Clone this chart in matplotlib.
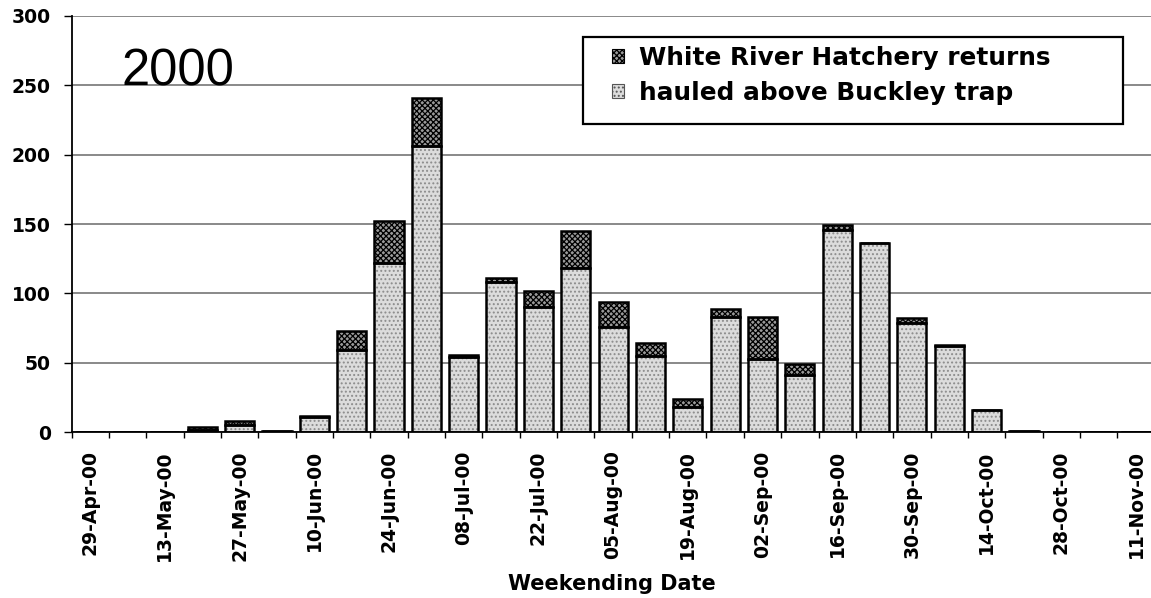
import matplotlib
matplotlib.use("Agg")
import matplotlib.pyplot as plt
from matplotlib.patches import Patch, Rectangle
import numpy as np

weeks = ['29-Apr-00', '06-May-00', '13-May-00', '20-May-00', '27-May-00', '03-Jun-00',
         '10-Jun-00', '17-Jun-00', '24-Jun-00', '01-Jul-00', '08-Jul-00', '15-Jul-00',
         '22-Jul-00', '29-Jul-00', '05-Aug-00', '12-Aug-00', '19-Aug-00', '26-Aug-00',
         '02-Sep-00', '09-Sep-00', '16-Sep-00', '23-Sep-00', '30-Sep-00', '07-Oct-00',
         '14-Oct-00', '21-Oct-00', '28-Oct-00', '04-Nov-00', '11-Nov-00']
hauled = [0, 0, 0, 2, 5, 1, 11, 59, 122, 206, 54, 108, 90, 118, 76, 55, 18, 83,
          53, 41, 146, 136, 79, 62, 16, 1, 0, 0, 0]
returns = [0, 0, 0, 2, 3, 0, 1, 14, 30, 35, 2, 3, 12, 27, 18, 9, 6, 6,
           30, 8, 3, 0, 3, 1, 0, 0, 0, 0, 0]
yticks = [0, 50, 100, 150, 200, 250, 300]
series_labels = ['White River Hatchery returns', 'hauled above Buckley trap']
year_label = '2000'
xlabel = 'Weekending Date'

plt.rcParams['hatch.linewidth'] = 0.9
BOLD = dict(family='DejaVu Sans', weight='bold')

W, H = 1151, 598
fig = plt.figure(figsize=(W / 100, H / 100), dpi=100)
ax = fig.add_axes([71.5 / W, 1 - 432.3 / H, 1083.2 / W, 416.6 / H])

x = np.arange(len(weeks))
bw = 0.78
haul_face, haul_hatch = '#dcdcdc', '#8c8c8c'
ret_face, ret_hatch = '#9a9a9a', '#000000'

ax.bar(x, hauled, bw, color=haul_face, edgecolor=haul_hatch, hatch='....', linewidth=0, zorder=2)
ax.bar(x, returns, bw, bottom=hauled, color=ret_face, edgecolor=ret_hatch, hatch='xxxxxx',
       linewidth=0, zorder=2)
for bottoms, vals in ((np.zeros(len(x)), hauled), (hauled, returns)):
    ax.bar(x, vals, bw, bottom=bottoms, fill=False, edgecolor='black', linewidth=1.8, zorder=3)

ax.set_xlim(-0.5, len(weeks) - 0.5)
ax.set_ylim(0, 300)
ax.set_yticks(yticks)
ax.set_yticklabels([str(v) for v in yticks], fontsize=13.5, **BOLD)
ax.yaxis.grid(True, color='#808080', linewidth=1.3, zorder=0)
ax.set_axisbelow(True)
ax.tick_params(axis='y', length=6, width=1, pad=9, color='black')

ax.set_xticks(x[::2])
ax.set_xticklabels(weeks[::2], rotation=90, fontsize=13.5, va='top', ha='center', **BOLD)
ax.set_xticks(np.arange(len(weeks) + 1) - 0.5, minor=True)
ax.tick_params(axis='x', which='major', length=0, pad=13)
ax.tick_params(axis='x', which='minor', length=4, width=1, color='black')

for s in ('top', 'right'):
    ax.spines[s].set_visible(False)
for s in ('left', 'bottom'):
    ax.spines[s].set_color('black')
    ax.spines[s].set_linewidth(1.3)

fig.text(612 / W, 1 - 590 / H, xlabel, ha='center', va='baseline', fontsize=15, **BOLD)
fig.text(121.5 / W, 1 - 85 / H, year_label, ha='left', va='baseline', fontsize=36.5,
         family='Liberation Sans')

box = Rectangle((583 / W, 1 - 124 / H), 540 / W, 87 / H, transform=fig.transFigure,
                facecolor='white', edgecolor='black', linewidth=1.6, zorder=5)
fig.add_artist(box)

h_ret = Patch(facecolor=ret_face, edgecolor='black', hatch='xxxxxx', linewidth=0.8)
h_haul = Patch(facecolor=haul_face, edgecolor='#555555', hatch='....', linewidth=0.8)
leg = fig.legend([h_ret, h_haul], series_labels, loc='upper left',
                 bbox_to_anchor=(612 / W, 1 - 45.5 / H), frameon=False, borderpad=0,
                 borderaxespad=0, handlelength=0.48, handleheight=0.52, handletextpad=0.6,
                 labelspacing=0.45,
                 prop=dict(family='DejaVu Sans', weight='bold', size=17.8))
leg.set_zorder(6)

fig.savefig('out.png', dpi=100)
